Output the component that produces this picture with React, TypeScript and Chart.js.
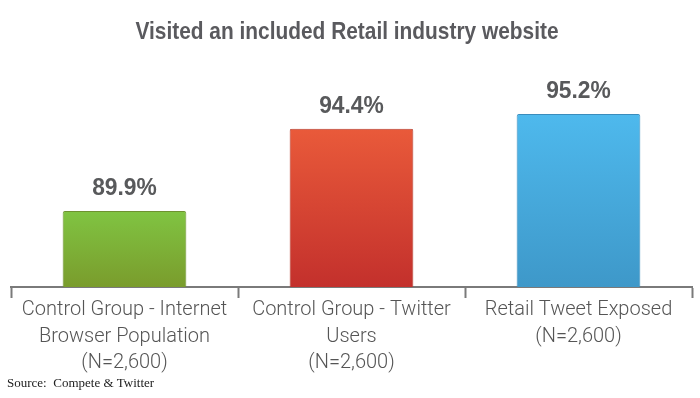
import React, { useEffect, useRef } from "react";
import { Chart, registerables } from "chart.js";

Chart.register(...registerables);

const titleText = "Visited an included Retail industry website";
const sourceText = "Source:  Compete & Twitter";
const categories: string[][] = [
  ["Control Group - Internet", "Browser Population", "(N=2,600)"],
  ["Control Group - Twitter", "Users", "(N=2,600)"],
  ["Retail Tweet Exposed", "(N=2,600)"],
];
const values = [89.9, 94.4, 95.2];
const valueLabels = ["89.9%", "94.4%", "95.2%"];
const topColors = ["#80c442", "#e95a3a", "#4eb9ed"];
const bottomColors = ["#7a9c2c", "#c3302c", "#3e98c9"];
const borderColors = ["#6e9230", "#b53a2c", "#3a8cbc"];
const yMin = 85.75;
const yMax = 98.15;

const textPlugin = {
  id: "textPlugin",
  afterDraw(chart: any) {
    const ctx = chart.ctx;
    ctx.save();
    // title
    ctx.fillStyle = "#5a5a5e";
    ctx.font = 'bold 24px "Liberation Sans", Arial, sans-serif';
    ctx.textAlign = "center";
    ctx.textBaseline = "alphabetic";
    ctx.save();
    ctx.translate(347, 39);
    ctx.scale(0.87, 1);
    ctx.fillText(titleText, 0, 0);
    ctx.restore();
    // value labels
    const meta = chart.getDatasetMeta(0);
    meta.data.forEach((bar: any, i: number) => {
      ctx.save();
      ctx.translate(bar.x, bar.y - 16);
      ctx.scale(0.95, 1);
      ctx.fillStyle = "#58595b";
      ctx.font = 'bold 24px "Liberation Sans", Arial, sans-serif';
      ctx.textAlign = "center";
      ctx.fillText(valueLabels[i], 0, 0);
      ctx.restore();
    });
    // source
    ctx.fillStyle = "#222";
    ctx.font = '13px "Liberation Serif", serif';
    ctx.textAlign = "left";
    ctx.fillText(sourceText, 7, 387);
    ctx.restore();
  },
};

export default function App() {
  const ref = useRef<HTMLCanvasElement>(null);
  useEffect(() => {
    if (!ref.current) return;
    const chart = new Chart(ref.current, {
      type: "bar",
      data: {
        labels: categories as any,
        datasets: [
          {
            data: values,
            backgroundColor: (c: any) => {
              const ch = c.chart;
              const area = ch.chartArea;
              const i = c.dataIndex ?? 0;
              if (!area || !ch.scales.y) return topColors[i];
              const top = ch.scales.y.getPixelForValue(values[i]);
              const g = ch.ctx.createLinearGradient(0, top, 0, area.bottom);
              g.addColorStop(0, topColors[i]);
              g.addColorStop(1, bottomColors[i]);
              return g;
            },
            borderColor: borderColors,
            borderWidth: 1,
            borderRadius: 2,
            borderSkipped: "bottom",
            barPercentage: 0.545,
            categoryPercentage: 1,
          },
        ],
      },
      options: {
        responsive: false,
        animation: false,
        layout: { padding: { top: 60, left: 11, right: 8, bottom: 0 } },
        plugins: {
          legend: { display: false },
          title: { display: false },
          tooltip: { enabled: false },
        },
        scales: {
          y: { display: false, min: yMin, max: yMax },
          x: {
            afterFit: (scale: any) => {
              scale.height = 111;
            },
            grid: {
              offset: true,
              drawOnChartArea: false,
              drawTicks: true,
              tickLength: 11,
              tickWidth: 2,
              tickColor: "#7a7a7a",
              color: "#7a7a7a",
            },
            border: { display: true, color: "#7a7a7a", width: 2 },
            ticks: {
              color: "#555555",
              padding: -1,
              maxRotation: 0,
              autoSkip: false,
              font: {
                family: '"Roboto", "Liberation Sans", Arial, sans-serif',
                size: 20,
                weight: "300" as any,
                lineHeight: "26.5px" as any,
              },
            },
          },
        },
      },
      plugins: [textPlugin],
    });
    return () => chart.destroy();
  }, []);
  return (
    <div style={{ position: "absolute", left: 0, top: 0, width: 700, height: 398, background: "#fff" }}>
      <canvas ref={ref} width={700} height={398} />
    </div>
  );
}
